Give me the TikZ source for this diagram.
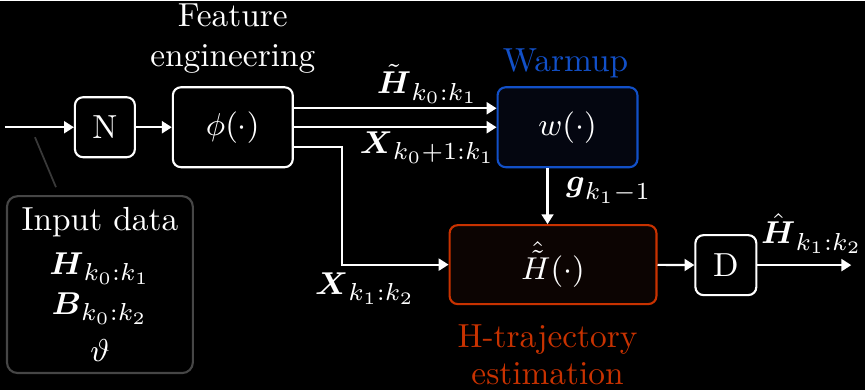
\documentclass[tikz,border=0pt]{standalone}
\usepackage{amsmath}
\usetikzlibrary{calc,arrows.meta,positioning}
\definecolor{wblue}{RGB}{18,80,200}
\definecolor{hred}{RGB}{200,50,0}
\definecolor{wfill}{RGB}{4,6,16}
\definecolor{hfill}{RGB}{12,4,2}

\begin{document}
\begin{tikzpicture}[
    font=\fontsize{9.5}{11.4}\selectfont,
    blk/.style={draw=white,fill=black,line width=0.6pt,rounded corners=2.3pt,
                text=white,minimum width=0.6cm,minimum height=0.6cm,inner sep=0pt},
    sig/.style={-{Triangle[length=2.8pt,width=3.4pt]},line width=0.6pt,white},
    lbl/.style={text=white,inner sep=1pt},
    pinline/.style={line width=0.5pt,gray!45!black},
]

% background
\fill[black] (0,0) rectangle (8.66,3.89);

% blocks
\node[blk] (N)   at (1.05,2.63)  {N};
\node[blk,minimum width=1.2cm,minimum height=0.8cm] (phi) at (2.33,2.63) {$\phi(\cdot)$};
\node[blk,draw=wblue,fill=wfill,minimum width=1.4cm,minimum height=0.8cm]
    (W) at (5.68,2.63) {$w(\cdot)$};
\node[blk,draw=hred,fill=hfill,minimum width=2.07cm,minimum height=0.79cm]
    (H) at (5.535,1.255) {$\hat{\tilde{H}}(\cdot)$};
\node[blk,minimum width=0.61cm] (D) at (7.265,1.25) {D};

% input data
\node[blk,draw=gray!55!black,rounded corners=3pt,minimum width=1.86cm,
      minimum height=1.77cm,align=center] (data) at (1.00,1.055)
    {Input data\\[1pt] $\boldsymbol{H}_{k_0{:}k_1}$\\ $\boldsymbol{B}_{k_0{:}k_2}$\\[2pt] $\vartheta$};

% block titles
\node[lbl,align=center] (fe) at (2.33,3.52) {Feature\\ engineering};
\node[lbl,text=wblue] (wt) at (5.66,3.27) {Warmup};
\node[lbl,text=hred,align=center,font=\fontsize{9.5}{10.6}\selectfont]
    (ht) at (5.48,0.355) {H-trajectory\\ estimation};

% free ends
\coordinate (in)   at (0.05,2.63);
\coordinate (out)  at (8.52,1.25);
\coordinate (pinA) at (0.35,2.53);
\coordinate (pinB) at (0.56,2.03);

% signal flow
\draw[sig] (in) -- (N);
\draw[sig] (N) -- (phi);
\draw[sig] ([yshift=0.19cm]phi.east) -- node[pos=0.66,above,lbl]
    {$\tilde{\boldsymbol{H}}_{k_0{:}k_1}$} ([yshift=0.19cm]W.west);
\draw[sig] (phi.east) -- node[pos=0.66,below,lbl]
    {$\boldsymbol{X}_{k_0+1{:}k_1}$} (W.west);
\draw[sig] ([yshift=-0.2cm]phi.east) -- ++(0.48,0) |- node[pos=0.61,below=1pt,lbl]
    {$\boldsymbol{X}_{k_1{:}k_2}$} (H.west);
\draw[sig] ([xshift=-0.2cm]W.south) -- node[pos=0.4,right=4pt,lbl]
    {$\boldsymbol{g}_{k_1-1}$} ([xshift=-0.2cm]W.south |- H.north);
\draw[sig] (H) -- (D);
\draw[sig] (D) -- node[pos=0.58,above=2pt,lbl] {$\hat{\boldsymbol{H}}_{k_1{:}k_2}$} (out);

% pointer to input
\draw[pinline] (pinA) -- (pinB);

\end{tikzpicture}
\end{document}
